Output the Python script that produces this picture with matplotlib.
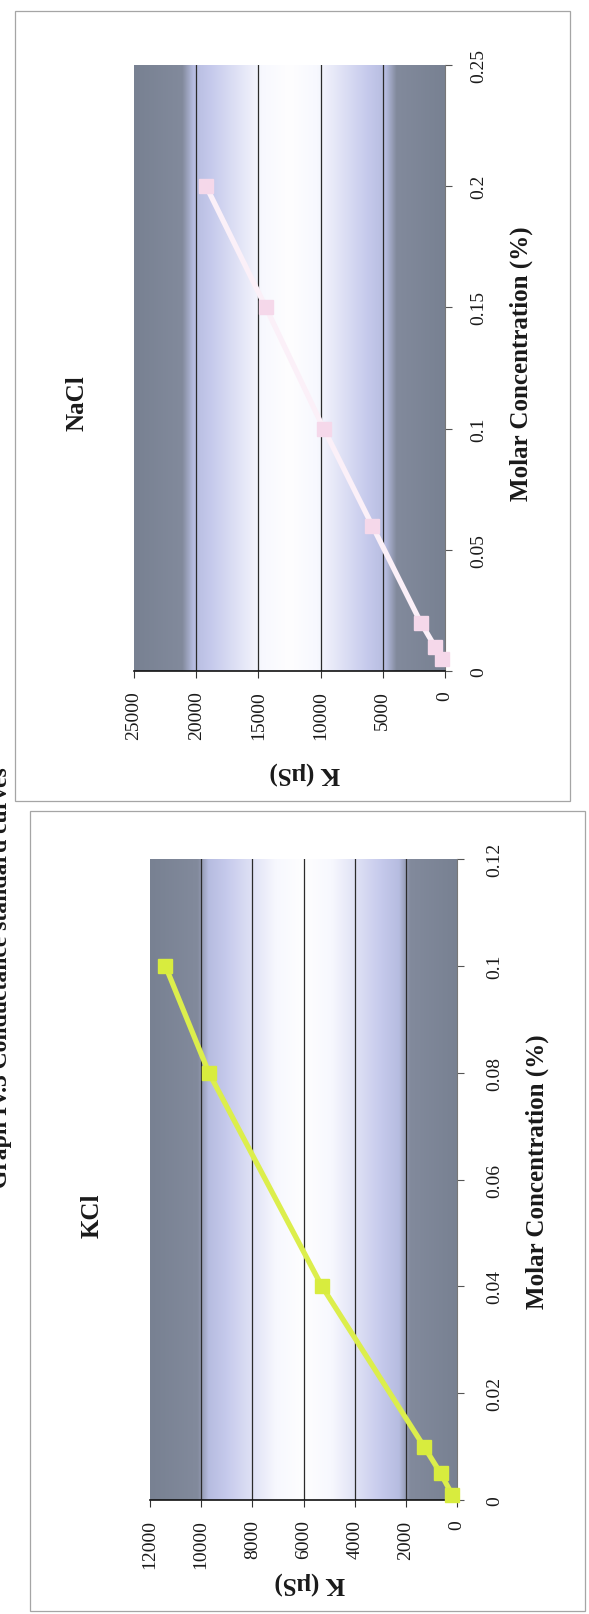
import numpy as np
import matplotlib
matplotlib.use("Agg")
import matplotlib.pyplot as plt
from matplotlib.patches import Rectangle

plt.rcParams['font.family'] = ['Liberation Serif', 'DejaVu Serif']

# conductance readings, molar concentration vs K (uS)
kcl_conc = [0.001, 0.005, 0.01, 0.04, 0.08, 0.1]
kcl_k = [190, 640, 1290, 5280, 9700, 11400]
nacl_conc = [0.005, 0.01, 0.02, 0.06, 0.1, 0.15, 0.2]
nacl_k = [250, 800, 1950, 5850, 9750, 14400, 19200]

kcl_kticks = [0, 2000, 4000, 6000, 8000, 10000, 12000]
kcl_cticks = [0, 0.02, 0.04, 0.06, 0.08, 0.1, 0.12]
nacl_kticks = [0, 5000, 10000, 15000, 20000, 25000]
nacl_cticks = [0, 0.05, 0.1, 0.15, 0.2, 0.25]

W, H = 589, 1615
fig = plt.figure(figsize=(W / 100, H / 100), dpi=100)
fig.patch.set_facecolor('white')


def px(x0, y0, x1, y1):
    # pixel box (y from top) -> figure fraction rect
    return [x0 / W, 1 - y1 / H, (x1 - x0) / W, (y1 - y0) / H]


def gradient_fill(ax):
    # excel style fill: dark edges, lavender, white middle
    t = np.linspace(0, 1, 400)
    d = np.abs(2 * t - 1)
    stops = [0.0, 0.18, 0.5, 0.62, 0.69, 1.0]
    r = np.interp(d, stops, [254, 247, 198, 182, 130, 120])
    g = np.interp(d, stops, [254, 248, 202, 188, 138, 129])
    b = np.interp(d, stops, [255, 254, 236, 224, 156, 146])
    img = np.stack([r, g, b], axis=-1)[None, :, :] / 255.0
    ax.imshow(img, extent=(0, 1, 0, 1), transform=ax.transAxes,
              aspect='auto', zorder=0, interpolation='bilinear')


def panel(rect, conc, k, kticks, cticks, ctlabels, color, mcolor, cpad):
    ax = fig.add_axes(rect)
    gradient_fill(ax)
    ax.set_xlim(kticks[-1], 0)
    ax.set_ylim(0, cticks[-1])
    for v in kticks[1:-1]:
        ax.axvline(v, color='#2b2b2b', lw=0.9, zorder=1)
    ax.plot(k, conc, color=color, lw=3.8, marker='s', ms=9.5,
            mfc=mcolor, mec=mcolor, zorder=3, clip_on=False)
    ax.set_xticks(kticks)
    ax.set_xticklabels([str(v) for v in kticks])
    ax.set_yticks(cticks)
    ax.set_yticklabels(ctlabels)
    ax.yaxis.tick_right()
    ax.tick_params(axis='x', direction='out', length=5, width=0.8,
                   labelrotation=90, labelsize=14, pad=9,
                   colors='#333333', labelcolor='#1a1a1a')
    ax.tick_params(axis='y', direction='out', length=5, width=0.8,
                   labelrotation=90, labelsize=14, pad=cpad,
                   colors='#555555', labelcolor='#1a1a1a')
    for lab in ax.get_yticklabels():
        lab.set_va('center')
    for s in ['top', 'left']:
        ax.spines[s].set_visible(False)
    ax.spines['bottom'].set_color('#111111')
    ax.spines['bottom'].set_linewidth(1.2)
    ax.spines['right'].set_color('#777777')
    ax.spines['right'].set_linewidth(0.8)
    ax.grid(False)
    return ax


# panel frames
fig.add_artist(Rectangle((15 / W, 1 - 802 / H), (570 - 15) / W, (802 - 12) / H,
                         transform=fig.transFigure, fill=False,
                         edgecolor='#a5a5a5', lw=0.9))
fig.add_artist(Rectangle((30 / W, 1 - 1612 / H), (585 - 30) / W, (1612 - 812) / H,
                         transform=fig.transFigure, fill=False,
                         edgecolor='#a5a5a5', lw=0.9))

panel(px(134, 66, 445, 672), nacl_conc, nacl_k, nacl_kticks, nacl_cticks,
      ['0', '0.05', '0.1', '0.15', '0.2', '0.25'], '#fbf0f8', '#f5d8ea', 13)
panel(px(150, 860, 457, 1501), kcl_conc, kcl_k, kcl_kticks, kcl_cticks,
      ['0', '0.02', '0.04', '0.06', '0.08', '0.1', '0.12'], '#dcee4c', '#d8ec3e', 16)

bold = dict(fontsize=18, fontweight='bold', color='#1a1a1a',
            ha='center', va='center')
fig.text(77 / W, 1 - 403 / H, 'NaCl', rotation=90, **bold)
fig.text(92 / W, 1 - 1216 / H, 'KCl', rotation=90, **bold)
fig.text(521 / W, 1 - 364 / H, 'Molar Concentration (%)', rotation=90, **bold)
fig.text(537 / W, 1 - 1172 / H, 'Molar Concentration (%)', rotation=90, **bold)
fig.text(305 / W, 1 - 773 / H, 'K (\u03bcS)', rotation=180, **bold)
fig.text(310 / W, 1 - 1583 / H, 'K (\u03bcS)', rotation=180, **bold)

# page heading, trimmed by the left page edge
fig.text(12 / W, 1 - 978 / H, 'Graph IV.3 Conductance standard curves',
         rotation=90, fontsize=17, fontweight='bold', color='#1a1a1a',
         ha='right', va='center')

fig.savefig('out.png', dpi=100)
